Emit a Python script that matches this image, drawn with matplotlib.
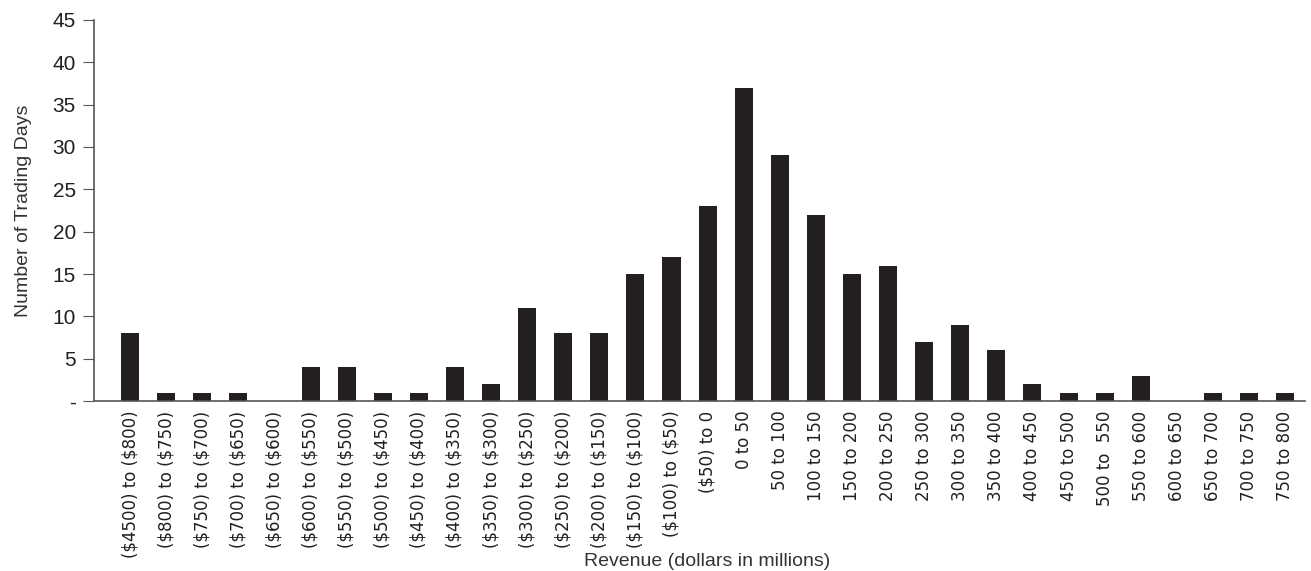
import numpy as np
import matplotlib.pyplot as plt

# bins of daily revenue and number of trading days in each
categories = ["($4500) to ($800)", "($800) to ($750)", "($750) to ($700)", "($700) to ($650)",
              "($650) to ($600)", "($600) to ($550)", "($550) to ($500)", "($500) to ($450)",
              "($450) to ($400)", "($400) to ($350)", "($350) to ($300)", "($300) to ($250)",
              "($250) to ($200)", "($200) to ($150)", "($150) to ($100)", "($100) to ($50)",
              "($50) to 0", "0 to 50", "50 to 100", "100 to 150", "150 to 200", "200 to 250",
              "250 to 300", "300 to 350", "350 to 400", "400 to 450", "450 to 500", "500 to  550",
              "550 to 600", "600 to 650", "650 to 700", "700 to 750", "750 to 800"]
days = [8, 1, 1, 1, 0, 4, 4, 1, 1, 4, 2, 11, 8, 8, 15, 17, 23, 37, 29, 22, 15, 16,
        7, 9, 6, 2, 1, 1, 3, 0, 1, 1, 1]
yticks = [0, 5, 10, 15, 20, 25, 30, 35, 40, 45]
ytick_labels = ["-", "5", "10", "15", "20", "25", "30", "35", "40", "45"]

narrow = ["Liberation Sans Narrow", "DejaVu Sans Condensed", "DejaVu Sans"]
plain = ["Liberation Sans", "DejaVu Sans"]

fig = plt.figure(figsize=(13.11, 5.71), dpi=100)
ax = fig.add_axes([0.0717, 0.2977, 0.9237, 0.6673])

x = np.arange(len(categories))
ax.bar(x, days, width=0.5, color="#231f20")

ax.set_xlim(-1.0, 32.55)
ax.set_ylim(0, 45)
ax.set_yticks(yticks)
ax.set_yticklabels(ytick_labels, fontsize=15, family=plain, color="#231f20")
ax.set_xticks(x)
ax.set_xticklabels(categories, rotation=90, fontsize=12, family=narrow,
                   color="#231f20", parse_math=False)
ax.tick_params(axis="x", length=0, pad=7)
ax.tick_params(axis="y", length=8, width=0.8, color="#555555", pad=5)

for side in ["top", "right"]:
    ax.spines[side].set_visible(False)
for side in ["left", "bottom"]:
    ax.spines[side].set_color("#555555")
    ax.spines[side].set_linewidth(1.2)

ax.set_ylabel("Number of Trading Days", fontsize=14, family=plain, color="#333333", labelpad=15)
fig.text(0.539, 0.001, "Revenue (dollars in millions)", ha="center", va="bottom",
         fontsize=14, family=plain, color="#333333")

fig.savefig("out.png", dpi=100)
